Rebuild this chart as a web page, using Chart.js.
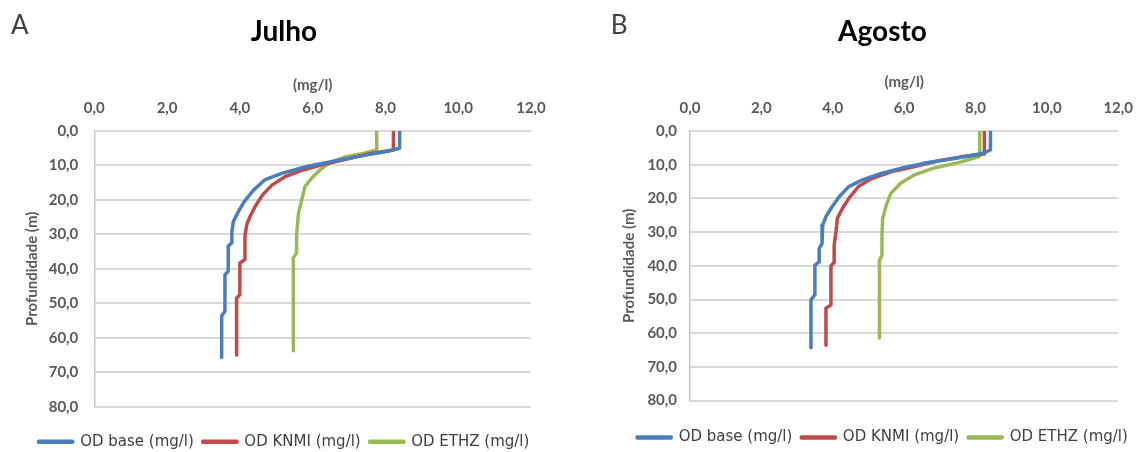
<!DOCTYPE html>
<html>
<head>
<meta charset="utf-8">
<script src="https://cdn.jsdelivr.net/npm/chart.js@4.4.0/dist/chart.umd.min.js"></script>
<style>
  html, body { margin: 0; padding: 0; background: #fff; overflow: hidden; width: 1147px; height: 452px; }
  canvas { position: absolute; top: 0; }
  #julho { left: 0; }
  #agosto { left: 573px; }
</style>
</head>
<body>
<canvas id="julho" width="573" height="462"></canvas>
<canvas id="agosto" width="574" height="462"></canvas>
<script>
// Perfis de OD (mg/l) por profundidade (m).
const seriesLabels = ['OD base (mg/l)', 'OD KNMI (mg/l)', 'OD ETHZ (mg/l)'];
const seriesColors = ['#4A7EBB', '#BE4B48', '#98B954'];

// A - Julho
const julhoBaseDepth = [0, 5.0, 6.0, 7.0, 8.4, 10.3, 12.3, 14.2, 17.1, 20.5, 23.4, 26.3, 29.2, 32.4, 33.4, 40.7, 41.7, 52.3, 53.7, 65.7];
const julhoBaseOD    = [8.39, 8.39, 8.0, 7.45, 6.75, 5.84, 5.15, 4.68, 4.38, 4.12, 3.96, 3.82, 3.78, 3.78, 3.68, 3.68, 3.59, 3.59, 3.50, 3.50];
const julhoKnmiDepth = [0, 5.5, 6.5, 7.9, 9.7, 11.3, 13.2, 15.7, 18.6, 21.9, 24.8, 27.2, 30.5, 37.3, 38.3, 47.5, 48.5, 65.0];
const julhoKnmiOD    = [8.22, 8.22, 7.6, 7.03, 6.29, 5.74, 5.25, 4.88, 4.62, 4.42, 4.28, 4.19, 4.14, 4.14, 4.0, 4.0, 3.91, 3.91];
const julhoEthzDepth = [0, 5.5, 6.5, 7.4, 9.1, 11.3, 13.7, 16.1, 20.0, 23.9, 30.0, 35.3, 36.8, 63.8];
const julhoEthzOD    = [7.76, 7.76, 7.39, 6.94, 6.48, 6.2, 5.97, 5.79, 5.7, 5.61, 5.56, 5.56, 5.47, 5.47];

// B - Agosto
const agostoBaseDepth = [0, 5.6, 6.6, 8.0, 9.6, 11.1, 12.6, 14.6, 16.5, 19.5, 23.0, 25.4, 27.9, 33.4, 34.9, 38.8, 39.8, 48.6, 50.1, 64.3];
const agostoBaseOD    = [8.42, 8.42, 8.22, 7.5, 6.54, 5.9, 5.36, 4.81, 4.45, 4.18, 3.95, 3.81, 3.72, 3.70, 3.62, 3.62, 3.50, 3.50, 3.39, 3.39];
const agostoKnmiDepth = [0, 6.8, 7.6, 9.0, 10.6, 12.1, 14.1, 16.5, 20.0, 23.0, 25.9, 29.9, 33.9, 39.0, 40.0, 51.6, 52.6, 63.6];
const agostoKnmiOD    = [8.25, 8.25, 7.63, 6.9, 6.27, 5.63, 5.09, 4.72, 4.45, 4.27, 4.13, 4.09, 4.04, 4.04, 3.95, 3.95, 3.81, 3.81];
const agostoEthzDepth = [0, 7.5, 9.1, 11.1, 13.1, 15.5, 18.5, 22.0, 25.9, 30.9, 36.9, 38.3, 61.4];
const agostoEthzOD    = [8.12, 8.12, 7.63, 6.81, 6.27, 5.9, 5.63, 5.5, 5.40, 5.38, 5.38, 5.31, 5.31];

const FONT = 'Lato, "Open Sans", sans-serif';
const LEGEND_FONT = '"DejaVu Sans", Verdana, sans-serif';
Chart.defaults.font.family = FONT;

const fmt = v => Number(v).toFixed(1).replace('.', ',');

// Letra do painel (A / B) no canto superior esquerdo
const panelLetter = {
  id: 'panelLetter',
  afterDraw(chart, args, opts) {
    const ctx = chart.ctx;
    ctx.save();
    ctx.font = '26px ' + FONT;
    ctx.fillStyle = '#404040';
    ctx.textBaseline = 'alphabetic';
    ctx.fillText(opts.text, opts.x, opts.y);
    ctx.restore();
  }
};

function makeChart(id, o) {
  const datasets = o.series.map((s, i) => ({
    label: seriesLabels[i],
    data: s[0].map((d, k) => ({ x: s[1][k], y: d })),
    borderColor: seriesColors[i],
    backgroundColor: seriesColors[i],
    borderWidth: 3.5,
    borderJoinStyle: 'round',
    pointRadius: 0,
    fill: false,
    tension: 0
  }));

  const axisFont = { size: 15, weight: 'bold' };

  return new Chart(document.getElementById(id), {
    type: 'line',
    data: { datasets },
    options: {
      responsive: false,
      animation: false,
      events: [],
      layout: { padding: { left: o.padL, right: o.padR, top: 0, bottom: o.padB } },
      plugins: {
        title: {
          display: true, text: o.title, color: '#000',
          font: { size: 28, weight: 'bold' },
          padding: { top: 15.2, bottom: 10 }
        },
        legend: {
          position: 'bottom',
          // título vazio só para abrir espaço entre o gráfico e a legenda
          title: { display: true, text: '', font: { size: 1 }, padding: { top: o.legendGap, bottom: 0 } },
          labels: { color: '#404040', font: { size: 15, family: LEGEND_FONT }, boxWidth: 34, boxHeight: 1, padding: 9 }
        },
        tooltip: { enabled: false },
        panelLetter: { text: o.letter, x: o.letterX, y: 34 }
      },
      scales: {
        x: {
          type: 'linear', position: 'top', min: 0, max: 12,
          ticks: { stepSize: 2, callback: fmt, padding: 14, color: '#595959', font: axisFont },
          grid: { display: false, drawTicks: false },
          border: { display: false },
          title: { display: true, text: '(mg/l)', color: '#595959', font: axisFont, padding: { top: o.xTitlePad, bottom: 0 } },
          afterFit: s => { s.height = 72.2; }
        },
        y: {
          type: 'linear', reverse: true, min: 0, max: 80,
          ticks: { stepSize: 10, callback: fmt, padding: o.yTickPad, color: '#595959', font: axisFont },
          grid: { color: '#D9D9D9', lineWidth: 2, drawTicks: false },
          border: { display: true, color: '#C8C8C8', width: 1.5 },
          title: { display: true, text: 'Profundidade (m)', color: '#595959', font: axisFont, padding: { top: o.yTitlePad, bottom: 0 } },
          afterFit: s => { s.width = o.yAxisW; }
        },
        // eixo vazio à direita: só reserva a margem direita do gráfico
        yR: {
          type: 'linear', position: 'right', display: true,
          ticks: { display: false },
          grid: { display: false, drawTicks: false },
          border: { display: false },
          afterFit: s => { s.width = o.rightW; }
        }
      }
    },
    plugins: [panelLetter]
  });
}

function drawAll() {
  makeChart('julho', {
    title: 'Julho', letter: 'A', letterX: 11,
    series: [[julhoBaseDepth, julhoBaseOD], [julhoKnmiDepth, julhoKnmiOD], [julhoEthzDepth, julhoEthzOD]],
    padL: 0, padR: 5, padB: 2.8, legendGap: 17.3, yAxisW: 94.3, rightW: 37, yTitlePad: 23.5, yTickPad: 16, xTitlePad: 17.2
  });

  makeChart('agosto', {
    title: 'Agosto', letter: 'B', letterX: 37.7,
    series: [[agostoBaseDepth, agostoBaseOD], [agostoKnmiDepth, agostoKnmiOD], [agostoEthzDepth, agostoEthzOD]],
    padL: 45, padR: 0, padB: 6.9, legendGap: 19.3, yAxisW: 72, rightW: 16.5, yTitlePad: 2, yTickPad: 13, xTitlePad: 14.2
  });
}

const fontsWanted = ['bold 28px Lato', 'bold 15px Lato', '26px Lato', '15px "DejaVu Sans"'];
if (document.fonts && document.fonts.load) {
  Promise.all(fontsWanted.map(f => document.fonts.load(f).catch(() => null))).then(drawAll, drawAll);
} else {
  drawAll();
}
</script>
</body>
</html>
